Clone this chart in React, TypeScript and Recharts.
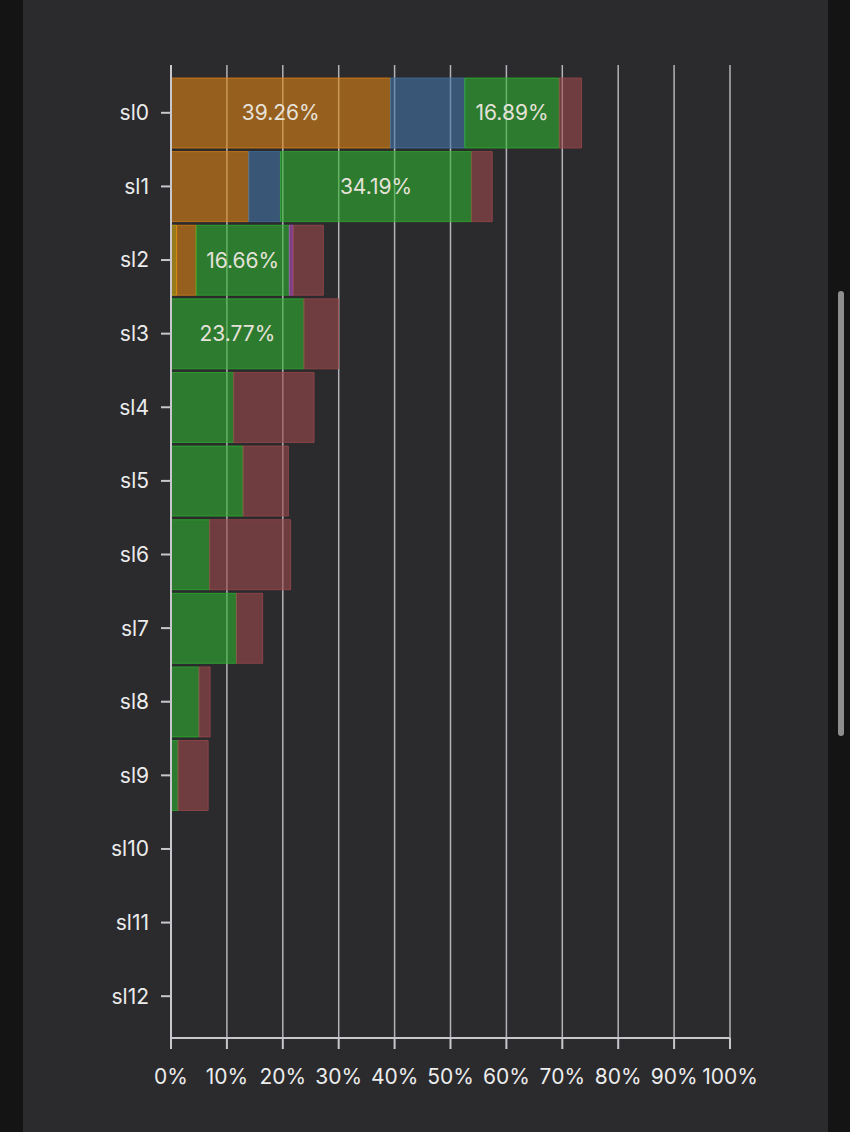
import React from 'react';
import { BarChart, Bar, XAxis, YAxis, CartesianGrid, LabelList } from 'recharts';

const categories = ['sl0', 'sl1', 'sl2', 'sl3', 'sl4', 'sl5', 'sl6', 'sl7', 'sl8', 'sl9', 'sl10', 'sl11', 'sl12'];
const yellowVals = [0, 0, 1.0, 0, 0, 0, 0, 0, 0, 0, 0, 0, 0];
const orangeVals = [39.26, 13.9, 3.5, 0, 0, 0, 0, 0, 0, 0, 0, 0, 0];
const blueVals = [13.3, 5.68, 0, 0, 0, 0, 0, 0, 0, 0, 0, 0, 0];
const greenVals = [16.89, 34.19, 16.66, 23.77, 11.2, 12.9, 6.9, 11.7, 5.0, 1.25, 0, 0, 0];
const purpleVals = [0, 0, 0.7, 0, 0, 0, 0, 0, 0, 0, 0, 0, 0];
const redVals = [4.0, 3.7, 5.4, 6.2, 14.4, 8.1, 14.5, 4.7, 2.0, 5.4, 0, 0, 0];
const xTicks = [0, 10, 20, 30, 40, 50, 60, 70, 80, 90, 100];

const data = categories.map((name, i) => ({
  name,
  yellow: yellowVals[i],
  orange: orangeVals[i],
  blue: blueVals[i],
  green: greenVals[i],
  purple: purpleVals[i],
  red: redVals[i],
}));

const series = [
  { key: 'yellow', color: '#e0b010' },
  { key: 'orange', color: '#de8414' },
  { key: 'blue', color: '#4274a6' },
  { key: 'green', color: '#2fb22f' },
  { key: 'purple', color: '#b050c0' },
  { key: 'red', color: '#9c4a4c' },
];

const FONT = 'Inter, "Noto Sans", sans-serif';

const labelFormatter = (v: any) => (typeof v === 'number' && v >= 15 ? `${v.toFixed(2)}%` : '');

export default function App() {
  return (
    <div style={{ position: 'absolute', left: 0, top: 0, width: 850, height: 1132, background: '#141414', overflow: 'hidden' }}>
      <div style={{ position: 'absolute', left: 23, top: 0, width: 805, height: 1132, background: '#2b2a2d' }} />
      <div style={{ position: 'absolute', left: 838, top: 291, width: 6, height: 445, background: '#8e8e8e', borderRadius: 3 }} />
      <div style={{ position: 'absolute', left: 0, top: 0 }}>
        <BarChart
          width={850}
          height={1132}
          data={data}
          layout="vertical"
          margin={{ top: 65, right: 120, bottom: 0, left: 0 }}
          barCategoryGap={2}
        >
          <CartesianGrid horizontal={false} stroke="#b4b4b8" strokeWidth={1.5} />
          <XAxis
            type="number"
            domain={[0, 100]}
            ticks={xTicks}
            interval={0}
            tickFormatter={(v: number) => `${v}%`}
            stroke="#c8c8cc"
            strokeWidth={2}
            tickSize={11}
            tickMargin={20}
            tick={{ fill: '#ececec', fontSize: 21, fontFamily: FONT }}
            height={94}
          />
          <YAxis
            type="category"
            dataKey="name"
            width={171}
            padding={{ top: 11, bottom: 5 }}
            stroke="#c8c8cc"
            strokeWidth={2}
            tickSize={10}
            tickMargin={12}
            interval={0}
            tick={{ fill: '#ececec', fontSize: 21, fontFamily: FONT }}
          />
          {series.map((s) => (
            <Bar
              key={s.key}
              dataKey={s.key}
              stackId="a"
              fill={s.color}
              fillOpacity={0.6}
              stroke={s.color}
              strokeOpacity={0.75}
              strokeWidth={1}
              isAnimationActive={false}
            >
              <LabelList
                dataKey={s.key}
                position="center"
                formatter={labelFormatter}
                fill="#e6e2da"
                fontSize={21}
                fontFamily={FONT}
              />
            </Bar>
          ))}
        </BarChart>
      </div>
    </div>
  );
}
